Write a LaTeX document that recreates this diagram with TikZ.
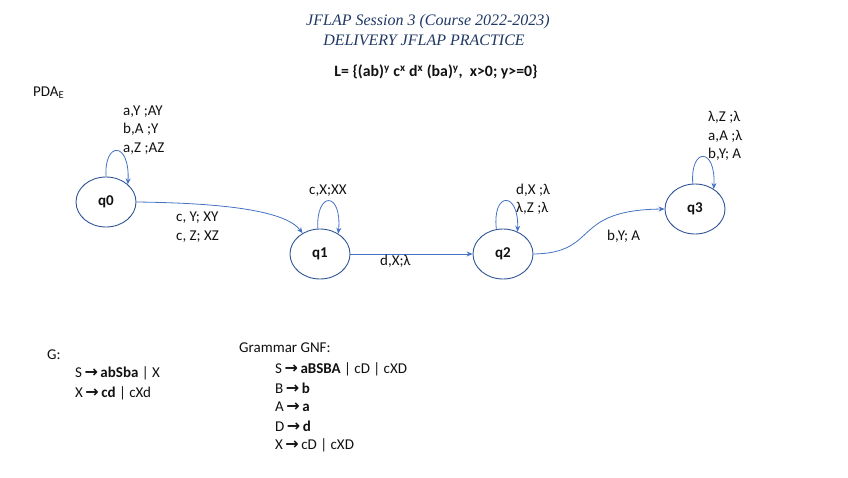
\documentclass[tikz,border=0pt]{standalone}
\usepackage{fontspec}
\setmainfont{Carlito}
\newfontfamily\titlefont{Liberation Serif}
\newfontfamily\symfont{DejaVu Sans}
\usetikzlibrary{shapes.geometric,arrows.meta}
\definecolor{edgeblue}{HTML}{4472C4}
\definecolor{nodeblue}{HTML}{2F5597}
\definecolor{titleblue}{HTML}{1F3864}
\definecolor{txt}{HTML}{111111}
\newcommand{\ar}{\,{\symfont\bfseries\fontsize{16}{19}\selectfont →}\,}
\begin{document}
\begin{tikzpicture}[x=1pt,y=-1pt,
  state/.style={ellipse,draw=nodeblue,line width=0.9pt,minimum width=60pt,minimum height=50pt,inner sep=0pt,font=\fontsize{15}{18}\selectfont\bfseries,text=txt},
  edge/.style={draw=edgeblue,line width=0.8pt,-{Stealth[length=6pt,width=5pt]}},
  lbl/.style={anchor=west,align=left,inner sep=0pt,font=\fontsize{15}{18.5}\selectfont,text=txt},
  gram/.style={anchor=west,align=left,inner sep=0pt,font=\fontsize{15}{19}\selectfont,text=txt}]
\useasboundingbox (0,0) rectangle (848,477);
% title
\node[inner sep=0pt,text=titleblue,font=\titlefont\itshape\fontsize{16}{18}\selectfont] (t1) at (428,22) {JFLAP Session 3 (Course 2022-2023)};
\node[inner sep=0pt,text=titleblue,font=\titlefont\itshape\fontsize{16}{18}\selectfont] (t2) at (424,40) {DELIVERY JFLAP PRACTICE};
\node[inner sep=0pt,text=txt,font=\fontsize{15.8}{18}\selectfont\bfseries] (lang) at (436,72) {L= \{(ab)\textsuperscript{y} c\textsuperscript{x} d\textsuperscript{x} (ba)\textsuperscript{y},\ \ x>0; y>=0\}};
\node[lbl] (pda) at (33,93) {PDA\textsubscript{E}};
% states
\node[state] (q0) at (106,202) {q0};
\node[state] (q1) at (320,254) {q1};
\node[state] (q2) at (503,254) {q2};
\node[state] (q3) at (695,209) {q3};
% loops
\draw[edge] (q0.90) .. controls (104,141) and (130,141) .. (q0.39);
\draw[edge] (q1.95) .. controls (316,191) and (342,191) .. (q1.48);
\draw[edge] (q2.105) .. controls (492,191) and (519,191) .. (q2.57);
\draw[edge] (q3.95) .. controls (690,147) and (716,147) .. (q3.47);
% transitions
\draw[edge] (q0.east) .. controls (220,203) and (285,210) .. (q1.130);
\draw[edge] (q1.east) -- (q2.west);
\draw[edge] (q2.east) .. controls (600,253) and (570,210) .. (q3.west);
% labels
\node[lbl] (l0) at (123,130) {a,Y ;AY\\b,A ;Y\\a,Z ;AZ};
\node[lbl] (l01) at (176,227) {c, Y; XY\\c, Z; XZ};
\node[lbl] (l1) at (309,191) {c,X;XX};
\node[lbl] (l12) at (380,261) {d,X;λ};
\node[lbl] (l2) at (516,199) {d,X ;λ\\λ,Z ;λ};
\node[lbl] (l23) at (607,236) {b,Y; A};
\node[lbl] (l3) at (708,136) {λ,Z ;λ\\a,A ;λ\\b,Y; A};
% grammars
\node[gram] (g) at (47,355) {G:};
\node[gram] (gs) at (75,373) {S\ar\textbf{abSba} | X};
\node[gram] (gx) at (75,393) {X\ar\textbf{cd} | cXd};
\node[gram] (gnf) at (239,348) {Grammar GNF:};
\node[gram] (n1) at (275,369) {S\ar\textbf{aBSBA} | cD | cXD};
\node[gram] (n2) at (275,388) {B\ar\textbf{b}};
\node[gram] (n3) at (275,407) {A\ar\textbf{a}};
\node[gram] (n4) at (275,426) {D\ar\textbf{d}};
\node[gram] (n5) at (275,445) {X\ar cD | cXD};
\end{tikzpicture}
\end{document}
